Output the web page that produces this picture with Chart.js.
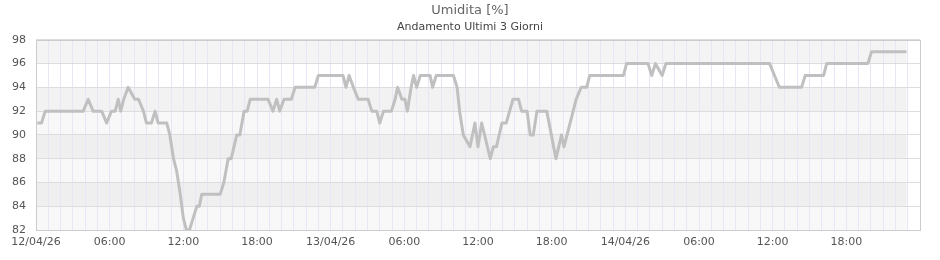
<!DOCTYPE html>
<html><head><meta charset="utf-8">
<script src="https://cdn.jsdelivr.net/npm/chart.js@4.4.1/dist/chart.umd.min.js"></script>
<style>html,body{margin:0;padding:0;background:#fff}#wrap{width:940px;height:260px}</style>
</head><body><div id="wrap"><canvas id="c" width="940" height="260"></canvas></div>
<script>
// hours since 12/04/26 00:00
const hours = [0.1,0.45,0.75,3.85,4.25,4.65,5.35,5.75,6.15,6.45,6.7,6.9,7.15,7.5,8.05,8.35,8.75,9.0,9.4,9.7,9.95,10.65,10.9,11.2,11.45,11.75,12.0,12.25,12.5,12.8,13.1,13.3,13.5,15.0,15.3,15.65,15.9,16.35,16.6,16.95,17.2,17.45,18.9,19.3,19.6,19.85,20.2,20.8,21.1,22.7,23.0,25.0,25.25,25.5,25.85,26.25,27.05,27.35,27.75,28.0,28.3,28.95,29.25,29.45,29.8,30.05,30.25,30.55,30.75,31.0,31.3,32.1,32.3,32.6,34.0,34.3,34.5,34.8,35.35,35.75,36.0,36.3,37.0,37.25,37.5,37.95,38.3,38.85,39.3,39.55,40.0,40.25,40.5,40.8,41.6,42.35,42.8,43.0,43.5,44.0,44.4,44.85,45.1,47.85,48.1,49.85,50.15,50.45,51.0,51.3,59.75,60.15,60.55,62.35,62.65,64.15,64.4,67.75,68.05,70.9];
const humidity = [91,91,92,92,93,92,92,91,92,92,93,92,93,94,93,93,92,91,91,92,91,91,90,88,87,85,83,82,82,83,84,84,85,85,86,88,88,90,90,92,92,93,93,92,93,92,93,93,94,94,95,95,94,95,94,93,93,92,92,91,92,92,93,94,93,93,92,94,95,94,95,95,94,95,95,94,92,90,89,91,89,91,88,89,89,91,91,93,93,92,92,90,90,92,92,88,90,89,91,93,94,94,95,95,96,96,95,96,95,96,96,95,94,94,95,95,96,96,97,97];
const dayLabels = ['12/04/26','13/04/26','14/04/26'];
const hourLabels = ['00:00','06:00','12:00','18:00'];
const yTicks = [82,84,86,88,90,92,94,96,98];
const bandColors = ['#f8f8f8','#efefef','#f8f8f8','#efefef','#f8f8f8','#f2f2f2','#ffffff','#f4f4f4'];

const FONT = 'DejaVu Sans';

const bandPlugin = {
  id: 'bands',
  beforeDraw(chart) {
    const {ctx, chartArea: a, scales: {x, y}} = chart;
    const xr = x.getPixelForValue(hours[hours.length - 1]);
    ctx.save();
    for (let i = 0; i < yTicks.length - 1; i++) {
      const top = y.getPixelForValue(yTicks[i + 1]);
      const bot = y.getPixelForValue(yTicks[i]);
      ctx.fillStyle = bandColors[i];
      ctx.fillRect(a.left, top, xr - a.left, bot - top);
    }
    ctx.restore();
  },
  beforeDatasetsDraw(chart) {
    const {ctx, chartArea: a} = chart;
    ctx.save();
    ctx.strokeStyle = '#cccccc';
    ctx.lineWidth = 1;
    ctx.strokeRect(Math.round(a.left) + 0.5, Math.round(a.top) + 0.5, Math.round(a.right - a.left), Math.round(a.bottom - a.top));
    ctx.restore();
  }
};

new Chart(document.getElementById('c'), {
  type: 'line',
  data: {
    datasets: [{
      data: hours.map((h, i) => ({x: h, y: humidity[i]})),
      borderColor: '#c0c0c0',
      borderWidth: 3,
      pointRadius: 0,
      tension: 0,
      borderJoinStyle: 'round',
      fill: false
    }]
  },
  options: {
    responsive: false,
    animation: false,
    layout: {padding: 0},
    plugins: {
      legend: {display: false},
      tooltip: {enabled: false},
      title: {display: true, text: 'Umidita [%]', color: '#666666',
        font: {family: FONT, size: 13, weight: 'normal'}, padding: {top: 3, bottom: 2}},
      subtitle: {display: true, text: 'Andamento Ultimi 3 Giorni', color: '#444444',
        font: {family: FONT, size: 11, weight: 'normal'}, padding: {top: 0, bottom: 6}}
    },
    scales: {
      x: {
        type: 'linear', min: 0, max: 72,
        grid: {color: '#e6e6f6', drawTicks: false},
        border: {display: false},
        ticks: {
          stepSize: 1, autoSkip: false, maxRotation: 0, minRotation: 0, padding: 6,
          color: '#555555', font: {family: FONT, size: 11},
          callback: (v) => {
            if (v >= 72 || v % 6 !== 0) return '';
            const day = Math.floor(v / 24), hr = v % 24;
            return hr === 0 ? dayLabels[day] : hourLabels[hr / 6];
          }
        },
        afterFit: (s) => { s.height = 30; }
      },
      y: {
        min: 82, max: 98,
        grid: {color: '#dddddd', drawTicks: false},
        border: {display: false},
        ticks: {stepSize: 2, padding: 10, color: '#555555', font: {family: FONT, size: 11}},
        afterFit: (s) => { s.width = 36; }
      },
      yRight: {
        position: 'right', min: 82, max: 98,
        grid: {display: false, drawTicks: false},
        border: {display: false},
        ticks: {display: false},
        afterFit: (s) => { s.width = 20; }
      }
    }
  },
  plugins: [bandPlugin]
});
</script>
</body></html>
